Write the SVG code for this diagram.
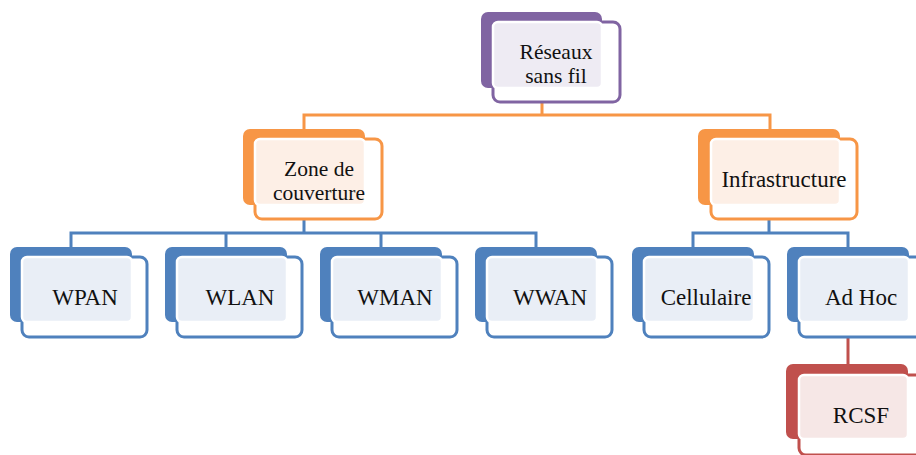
<svg xmlns="http://www.w3.org/2000/svg" width="916" height="455" viewBox="0 0 916 455">
<style>
.t{font-family:"Liberation Serif","Times New Roman",serif;font-size:23px;fill:#111;text-anchor:middle}
.t2{font-size:21.5px}
.fr{stroke-width:3;fill:#fff}
.in{stroke:#fff;stroke-width:2.5}
.c{fill:none;stroke-width:3}
.p .bk{fill:#8064A2}.p .fr{stroke:#8064A2}.p .in{fill:#EEEBF3}
.o .bk{fill:#F79646}.o .fr{stroke:#F79646}.o .in{fill:#FDEFE6}
.b .bk{fill:#4F81BD}.b .fr{stroke:#4F81BD}.b .in{fill:#E9EEF6}
.r .bk{fill:#C0504D}.r .fr{stroke:#C0504D}.r .in{fill:#F6E7E6}
</style>
<g id="connectors">
<path class="c" stroke="#F79646" d="M542 102V115M304 129V115H770V129"/>
<path class="c" stroke="#4F81BD" d="M304 219V233M71 247V233H536V247M226 233V247M381 233V247"/>
<path class="c" stroke="#4F81BD" d="M769 219V233M693 247V233H848V247"/>
<path class="c" stroke="#C0504D" d="M848 337V364"/>
</g>
<g id="root" class="p">
<rect class="fr" x="493" y="22" width="127" height="80" rx="7"/>
<rect class="bk" x="481" y="12" width="121" height="76" rx="7"/>
<rect class="in" x="493" y="22" width="109" height="66" rx="5"/>
<text class="t t2" x="556" y="59">Réseaux</text>
<text class="t t2" x="556" y="83">sans fil</text>
</g>
<g id="zone" class="o">
<rect class="fr" x="255" y="139" width="127" height="80" rx="7"/>
<rect class="bk" x="243" y="129" width="122" height="76" rx="7"/>
<rect class="in" x="255" y="139" width="110" height="66" rx="5"/>
<text class="t t2" x="319" y="176">Zone de</text>
<text class="t t2" x="319" y="200">couverture</text>
</g>
<g id="infra" class="o">
<rect class="fr" x="711" y="139" width="146" height="80" rx="7"/>
<rect class="bk" x="698" y="129" width="142" height="76" rx="7"/>
<rect class="in" x="711" y="139" width="129" height="66" rx="5"/>
<text class="t" x="784" y="187">Infrastructure</text>
</g>
<g id="wpan" class="b">
<rect class="fr" x="22" y="257" width="125" height="80" rx="7"/>
<rect class="bk" x="10" y="247" width="122" height="75" rx="7"/>
<rect class="in" x="22" y="257" width="110" height="65" rx="5"/>
<text class="t" x="85" y="305">WPAN</text>
</g>
<g id="wlan" class="b">
<rect class="fr" x="177" y="257" width="125" height="80" rx="7"/>
<rect class="bk" x="165" y="247" width="122" height="75" rx="7"/>
<rect class="in" x="177" y="257" width="110" height="65" rx="5"/>
<text class="t" x="240" y="305">WLAN</text>
</g>
<g id="wman" class="b">
<rect class="fr" x="332" y="257" width="125" height="80" rx="7"/>
<rect class="bk" x="320" y="247" width="122" height="75" rx="7"/>
<rect class="in" x="332" y="257" width="110" height="65" rx="5"/>
<text class="t" x="395" y="305">WMAN</text>
</g>
<g id="wwan" class="b">
<rect class="fr" x="487" y="257" width="125" height="80" rx="7"/>
<rect class="bk" x="475" y="247" width="122" height="75" rx="7"/>
<rect class="in" x="487" y="257" width="110" height="65" rx="5"/>
<text class="t" x="550" y="305">WWAN</text>
</g>
<g id="cellulaire" class="b">
<rect class="fr" x="644" y="257" width="125" height="80" rx="7"/>
<rect class="bk" x="632" y="247" width="122" height="75" rx="7"/>
<rect class="in" x="644" y="257" width="110" height="65" rx="5"/>
<text class="t" x="706" y="305">Cellulaire</text>
</g>
<g id="adhoc" class="b">
<rect class="fr" x="799" y="257" width="125" height="80" rx="7"/>
<rect class="bk" x="787" y="247" width="122" height="75" rx="7"/>
<rect class="in" x="799" y="257" width="110" height="65" rx="5"/>
<text class="t" x="861" y="305">Ad Hoc</text>
</g>
<g id="rcsf" class="r">
<rect class="fr" x="799" y="375" width="125" height="80" rx="7"/>
<rect class="bk" x="786" y="364" width="122" height="75" rx="7"/>
<rect class="in" x="799" y="375" width="109" height="64" rx="5"/>
<text class="t" x="861" y="423">RCSF</text>
</g>
</svg>
